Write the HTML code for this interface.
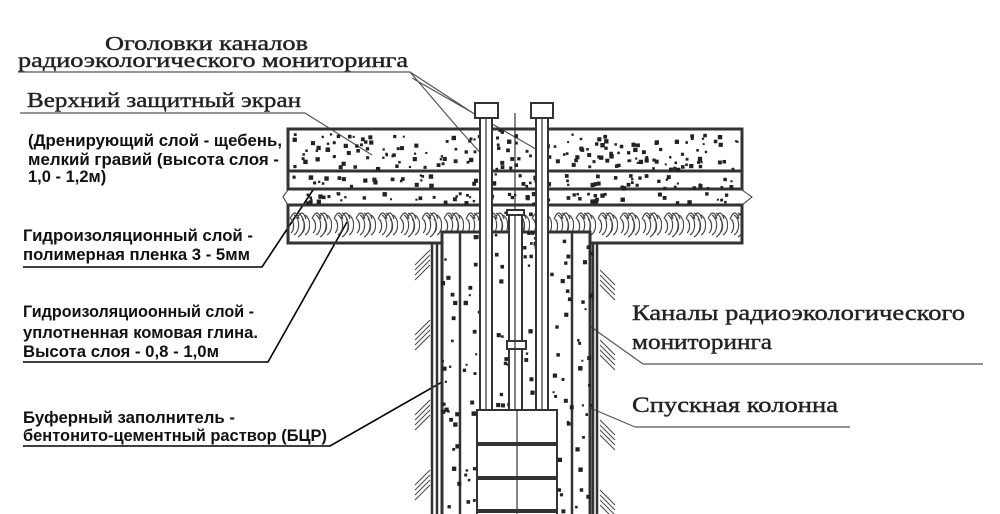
<!DOCTYPE html>
<html><head><meta charset="utf-8"><style>
html,body{margin:0;padding:0;background:#fff;}
svg{display:block}
.s{font-family:"Liberation Serif","Noto Serif CJK SC",serif;fill:#222;stroke:#222;stroke-width:0.4;}
.b{font-family:"Liberation Sans","Noto Sans CJK SC",sans-serif;font-weight:bold;font-size:16.5px;fill:#111;}
</style></head><body>
<svg id="sv" width="1000" height="514" viewBox="0 0 1000 514" xmlns="http://www.w3.org/2000/svg">
<defs>
<pattern id="clay" x="288" y="205" width="22" height="38" patternUnits="userSpaceOnUse">
<path d="M2 14 q5 -12 9 0 M9 14 q5 -12 9 0 M3 28 a5 8 0 0 0 0 -14 M6 30 a8 11 0 0 0 0 -20 M10 32 a10 13 0 0 0 0 -24 M14 28 a5 8 0 0 0 0 -14 M17 30 a8 11 0 0 0 0 -20" fill="none" stroke="#444" stroke-width="1.2"/>
</pattern>
</defs>
<text class="s" x="105" y="50" font-size="20" textLength="203" lengthAdjust="spacingAndGlyphs">Оголовки каналов</text>
<text class="s" x="18" y="67" font-size="20" textLength="390" lengthAdjust="spacingAndGlyphs">радиоэкологического мониторинга</text>
<text class="s" x="27" y="107" font-size="21" textLength="274" lengthAdjust="spacingAndGlyphs">Верхний защитный экран</text>
<text class="s" x="632" y="320" font-size="22" textLength="333" lengthAdjust="spacingAndGlyphs">Каналы радиоэкологического</text>
<text class="s" x="632" y="349" font-size="22" textLength="140" lengthAdjust="spacingAndGlyphs">мониторинга</text>
<text class="s" x="632" y="412" font-size="22" textLength="206" lengthAdjust="spacingAndGlyphs">Спускная колонна</text>
<g fill="none" stroke="#555" stroke-width="1.2">
<path d="M18 72 H410 L473 113 M410 72 L458 128 L484 157 M412 78 L548 156"/>
<path d="M20 113 H305 L372 155"/>
<path d="M643 364 H983 M643 364 L598 332 L545 290"/>
<path d="M635 427 H850 M635 427 L595 410 L520 368"/>
</g>
<text class="b" x="28" y="146" textLength="254" lengthAdjust="spacingAndGlyphs">(Дренирующий слой - щебень,</text>
<text class="b" x="28" y="165" textLength="251" lengthAdjust="spacingAndGlyphs">мелкий гравий (высота слоя -</text>
<text class="b" x="28" y="182">1,0 - 1,2м)</text>
<text class="b" x="23" y="241" textLength="230" lengthAdjust="spacingAndGlyphs">Гидроизоляционный слой -</text>
<text class="b" x="23" y="260" textLength="227" lengthAdjust="spacingAndGlyphs">полимерная пленка 3 - 5мм</text>
<text class="b" x="23" y="317" textLength="231" lengthAdjust="spacingAndGlyphs">Гидроизоляциоонный слой -</text>
<text class="b" x="23" y="338" textLength="235" lengthAdjust="spacingAndGlyphs">уплотненная комовая глина.</text>
<text class="b" x="23" y="357" textLength="196" lengthAdjust="spacingAndGlyphs">Высота слоя - 0,8 - 1,0м</text>
<text class="b" x="23" y="423" textLength="212" lengthAdjust="spacingAndGlyphs">Буферный заполнитель -</text>
<text class="b" x="23" y="441" textLength="304" lengthAdjust="spacingAndGlyphs">бентонито-цементный раствор (БЦР)</text>
<g fill="none" stroke="#000" stroke-width="1.6">
<path d="M23 267 H262 L313 190"/>
<path d="M23 362 H268 L347 222"/>
<path d="M23 446 H330 L470 366"/>
</g>
<g stroke="#333" stroke-width="3" fill="none">
<rect x="288" y="129" width="454" height="60"/>
<line x1="288" y1="171" x2="742" y2="171"/>
<path d="M288 190 L283 197 L288 205 M742 190 L752 197 L742 205" stroke-width="1"/>
<rect x="288" y="205" width="454" height="38" fill="url(#clay)"/>
</g>
<g id="dots" fill="#222"></g>
<g stroke="#333" fill="none">
<rect x="442" y="232" width="148" height="290" fill="#fff" stroke-width="3"/>
<path d="M432 243 V514 M437 243 V514 M597 243 V514 M593 243 V514" stroke-width="2.5"/>
<path d="M460 232 V514 M572 232 V514" stroke-width="2.5"/>
</g>
<g id="dots2" fill="#222"></g>
<g stroke="#333" fill="#fff" stroke-width="2">
<rect x="480" y="116" width="12" height="300"/>
<rect x="536" y="116" width="12" height="300"/>
<rect x="509" y="214" width="13" height="200"/>
<rect x="507" y="210" width="17" height="5"/>
<rect x="475" y="103" width="23" height="15"/>
<rect x="531" y="103" width="22" height="15"/>
<rect x="507" y="341" width="19" height="8"/>
<rect x="477" y="410" width="80" height="110"/>
</g>
<g stroke="#333" stroke-width="1.2">
<line x1="486" y1="118" x2="486" y2="410"/><line x1="542" y1="118" x2="542" y2="410"/>
<line x1="515" y1="113" x2="515" y2="210"/><line x1="515" y1="215" x2="515" y2="410"/>
<line x1="517" y1="410" x2="517" y2="514"/>
</g>
<g stroke="#333" stroke-width="4">
<line x1="477" y1="444" x2="557" y2="444"/><line x1="477" y1="478" x2="557" y2="478"/><line x1="477" y1="511" x2="557" y2="511"/>
</g>
<g id="hatch" stroke="#444" stroke-width="1"></g>
</svg>
<script>
var s=7;function r(){s=(s*16807)%2147483647;return s/2147483647;}
var ns="http://www.w3.org/2000/svg";
function dots(g,x0,y0,w,h,n){var e=document.getElementById(g);for(var i=0;i<n;i++){var c=document.createElementNS(ns,'rect');var sz=2+r()*2.5;c.setAttribute('x',x0+r()*w);c.setAttribute('y',y0+r()*h);c.setAttribute('width',sz);c.setAttribute('height',sz);e.appendChild(c);}}
dots('dots',292,133,446,35,180);dots('dots',292,174,446,13,70);dots('dots',292,192,446,10,60);
dots('dots2',440,245,18,270,25);dots('dots2',462,235,16,280,22);dots('dots2',494,120,14,290,20);dots('dots2',523,120,12,290,20);dots('dots2',550,235,20,280,25);dots('dots2',575,245,16,270,22);
var h=document.getElementById('hatch');
function hs(x,y,dir){for(var k=0;k<4;k++){var l=document.createElementNS(ns,'line');l.setAttribute('x1',x);l.setAttribute('y1',y+k*5);l.setAttribute('x2',x+dir*15);l.setAttribute('y2',y+k*5+15);h.appendChild(l);}}
[250,320,400,470].forEach(function(y){hs(430,y,-1);});
[270,340,420,490].forEach(function(y){hs(600,y,1);});
</script>
</body></html>
